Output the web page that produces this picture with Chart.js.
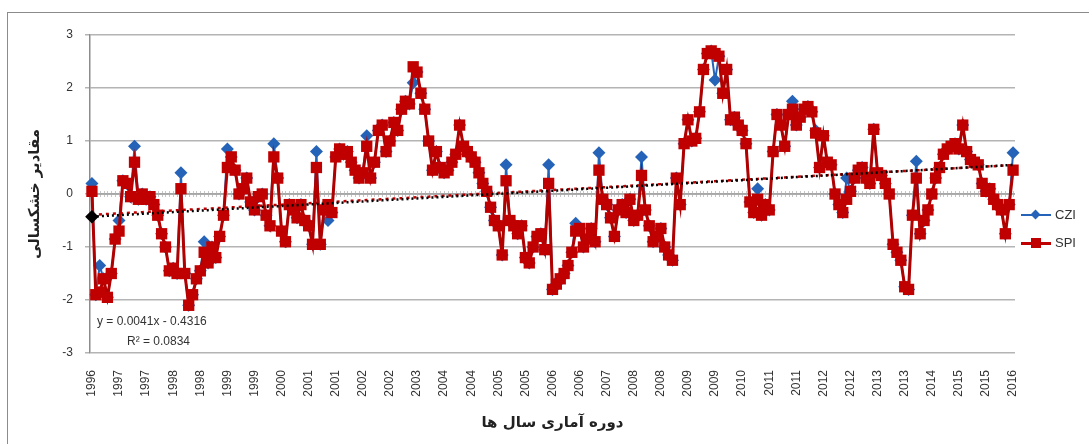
<!DOCTYPE html>
<html>
<head>
<meta charset="utf-8">
<title>CZI / SPI</title>
<script src="https://cdn.jsdelivr.net/npm/chart.js@4.4.1/dist/chart.umd.min.js"></script>
<style>
  html, body { margin: 0; padding: 0; background: #fff; }
  #wrap { position: relative; width: 1089px; height: 444px; overflow: hidden; }
  #frame { position: absolute; left: 7px; top: 12px; width: 1100px; height: 460px; border: 1px solid #8c8c8c; }
  #chart { position: absolute; left: 0; top: 0; }
  .eq { position: absolute; font: 12px "Liberation Sans", Arial, sans-serif; color: #333; white-space: nowrap; }
  .legend { position: absolute; left: 1021px; font: 13px "Liberation Sans", Arial, sans-serif; color: #333; }
  .legend .item { position: relative; height: 28px; }
  .legend .line { position: absolute; left: 0; top: 7px; width: 30px; height: 2px; }
  .legend .mark { position: absolute; }
  .legend .txt { position: absolute; left: 34px; top: 0; line-height: 16px; }
</style>
</head>
<body>
<div id="wrap">
  <div id="frame"></div>
  <canvas id="chart" width="1089" height="444"></canvas>
  <div class="eq" style="left:97px; top:314px;">y = 0.0041x - 0.4316</div>
  <div class="eq" style="left:127px; top:334px;">R² = 0.0834</div>
  <div class="legend" style="top:207px;">
    <div class="item">
      <div class="line" style="background:#2563b8"></div>
      <div class="mark" style="left:11px; top:4px; width:7px; height:7px; background:#2563b8; transform:rotate(45deg);"></div>
      <div class="txt">CZI</div>
    </div>
    <div class="item">
      <div class="line" style="background:#c00000; height:3px;"></div>
      <div class="mark" style="left:10px; top:3px; width:10px; height:10px; background:#c00000;"></div>
      <div class="txt">SPI</div>
    </div>
  </div>
</div>
<script>
// tick labels, one every 7 months (first label on the first point)
const tickStep = 7;
const yearTicks = [
  '1996', '1997', '1997', '1998', '1998', '1999', '1999', '2000', '2001', '2001',
  '2002', '2002', '2003', '2004', '2004', '2005', '2005', '2006', '2006', '2007',
  '2008', '2008', '2009', '2009', '2010', '2011', '2011', '2012', '2012', '2013',
  '2013', '2014', '2015', '2015', '2016'
];

// monthly SPI values
const spiValues = [
  0.05, -1.9, -1.85, -1.6, -1.95, -1.5, -0.85, -0.7, 0.25, 0.2,
  -0.05, 0.6, -0.1, 0.0, -0.1, -0.05, -0.2, -0.4, -0.75, -1.0,
  -1.45, -1.4, -1.5, 0.1, -1.5, -2.1, -1.9, -1.6, -1.45, -1.1,
  -1.3, -1.0, -1.2, -0.8, -0.4, 0.5, 0.7, 0.45, 0.0, 0.1,
  0.3, -0.15, -0.3, -0.05, 0.0, -0.4, -0.6, 0.7, 0.3, -0.7,
  -0.9, -0.2, -0.3, -0.45, -0.2, -0.5, -0.6, -0.95, 0.5, -0.95,
  -0.3, -0.2, -0.35, 0.7, 0.85, 0.75, 0.8, 0.6, 0.45, 0.3,
  0.4, 0.9, 0.3, 0.6, 1.2, 1.3, 0.8, 1.0, 1.35, 1.2,
  1.6, 1.75, 1.7, 2.4, 2.3, 1.9, 1.6, 1.0, 0.45, 0.8,
  0.5, 0.4, 0.45, 0.6, 0.75, 1.3, 0.9, 0.8, 0.7, 0.6,
  0.4, 0.2, 0.05, -0.25, -0.5, -0.6, -1.15, 0.25, -0.5, -0.6,
  -0.75, -0.6, -1.2, -1.3, -1.0, -0.8, -0.75, -1.05, 0.2, -1.8,
  -1.7, -1.6, -1.5, -1.35, -1.1, -0.7, -0.65, -1.0, -0.85, -0.65,
  -0.9, 0.45, -0.1, -0.2, -0.45, -0.8, -0.3, -0.2, -0.35, -0.1,
  -0.5, -0.4, 0.35, -0.3, -0.6, -0.9, -0.8, -0.65, -1.0, -1.15,
  -1.25, 0.3, -0.2, 0.95, 1.4, 1.0, 1.05, 1.55, 2.35, 2.65,
  2.7, 2.65, 2.6, 1.9, 2.35, 1.4, 1.45, 1.3, 1.2, 0.95,
  -0.15, -0.35, -0.1, -0.4, -0.2, -0.3, 0.8, 1.5, 1.3, 0.9,
  1.5, 1.6, 1.3, 1.45, 1.6, 1.65, 1.55, 1.15, 0.5, 1.1,
  0.6, 0.55, 0.0, -0.2, -0.35, -0.1, 0.05, 0.3, 0.45, 0.5,
  0.3, 0.2, 1.22, 0.4, 0.35, 0.2, 0.0, -0.95, -1.1, -1.25,
  -1.75, -1.8, -0.4, 0.3, -0.75, -0.5, -0.3, 0.0, 0.3, 0.5,
  0.75, 0.85, 0.9, 0.95, 0.85, 1.3, 0.8, 0.65, 0.6, 0.55,
  0.2, 0.05, 0.1, -0.1, -0.2, -0.3, -0.75, -0.2, 0.45
];

// monthly CZI values (mostly hidden under SPI, visible at the peaks)
const cziValues = [
  0.2, -1.9, -1.35, -1.6, -1.95, -1.5, -0.85, -0.5, 0.25, 0.2,
  -0.05, 0.9, -0.1, 0.0, -0.1, -0.05, -0.2, -0.4, -0.75, -1.0,
  -1.45, -1.4, -1.5, 0.4, -1.5, -2.1, -1.9, -1.6, -1.45, -0.9,
  -1.3, -1.0, -1.2, -0.8, -0.4, 0.85, 0.7, 0.45, 0.0, 0.1,
  0.3, -0.15, -0.3, -0.05, 0.0, -0.4, -0.6, 0.95, 0.3, -0.7,
  -0.9, -0.2, -0.3, -0.45, -0.2, -0.5, -0.6, -0.95, 0.8, -0.95,
  -0.3, -0.5, -0.35, 0.7, 0.85, 0.75, 0.8, 0.6, 0.45, 0.3,
  0.4, 1.1, 0.3, 0.6, 1.2, 1.3, 0.8, 1.0, 1.35, 1.2,
  1.6, 1.75, 1.7, 2.1, 2.3, 1.9, 1.6, 1.0, 0.45, 0.8,
  0.5, 0.4, 0.45, 0.6, 0.75, 1.3, 0.9, 0.8, 0.7, 0.6,
  0.4, 0.2, 0.05, -0.25, -0.5, -0.6, -1.15, 0.55, -0.5, -0.6,
  -0.75, -0.6, -1.2, -1.3, -1.0, -0.8, -0.75, -1.05, 0.55, -1.8,
  -1.7, -1.6, -1.5, -1.35, -1.1, -0.55, -0.65, -1.0, -0.85, -0.65,
  -0.9, 0.78, -0.1, -0.2, -0.45, -0.8, -0.3, -0.2, -0.35, -0.1,
  -0.5, -0.4, 0.7, -0.3, -0.6, -0.9, -0.8, -0.65, -1.0, -1.15,
  -1.25, 0.3, -0.2, 0.95, 1.4, 1.0, 1.05, 1.55, 2.35, 2.65,
  2.7, 2.15, 2.6, 1.9, 2.35, 1.4, 1.45, 1.3, 1.2, 0.95,
  -0.15, -0.35, 0.1, -0.4, -0.2, -0.3, 0.8, 1.5, 1.3, 0.9,
  1.5, 1.75, 1.3, 1.45, 1.6, 1.65, 1.55, 1.2, 0.5, 1.1,
  0.6, 0.55, 0.0, -0.2, -0.35, 0.3, 0.05, 0.3, 0.45, 0.5,
  0.3, 0.2, 1.22, 0.4, 0.35, 0.2, 0.0, -0.95, -1.1, -1.25,
  -1.75, -1.8, -0.4, 0.62, -0.75, -0.5, -0.3, 0.0, 0.3, 0.5,
  0.75, 0.85, 0.9, 0.95, 0.85, 1.3, 0.8, 0.65, 0.6, 0.55,
  0.2, 0.05, 0.1, -0.1, -0.2, -0.3, -0.75, -0.2, 0.78
];

// trend equation printed on the chart
const trendSlope = 0.0041;
const trendIntercept = -0.4316;

const categories = spiValues.map((v, i) => i);

function linearFit(values) {
  const n = values.length;
  let sx = 0, sy = 0, sxx = 0, sxy = 0;
  values.forEach((v, i) => {
    const x = i + 1;
    sx += x; sy += v; sxx += x * x; sxy += x * v;
  });
  const slope = (n * sxy - sx * sy) / (n * sxx - sx * sx);
  return { slope, intercept: (sy - slope * sx) / n };
}

const spiFit = linearFit(spiValues);
const cziTrend = categories.map(i => trendSlope * (i + 1) + trendIntercept);
const spiTrend = categories.map(i => spiFit.slope * (i + 1) + spiFit.intercept);

// horizontal axis crossing at 0, with a tick mark on every category
const zeroAxis = {
  id: 'zeroAxis',
  beforeDatasetsDraw(chart) {
    const { ctx, chartArea, scales: { x, y } } = chart;
    const y0 = y.getPixelForValue(0);
    ctx.save();
    ctx.strokeStyle = '#c6c6c6';
    ctx.lineWidth = 1;
    ctx.beginPath();
    categories.forEach(i => {
      const px = Math.round(x.getPixelForValue(i)) + 0.5;
      ctx.moveTo(px, y0 - 3);
      ctx.lineTo(px, y0 + 3);
    });
    ctx.stroke();
    ctx.strokeStyle = '#a0a0a0';
    ctx.lineWidth = 1.5;
    ctx.beginPath();
    ctx.moveTo(chartArea.left, y0);
    ctx.lineTo(chartArea.right, y0);
    ctx.stroke();
    ctx.restore();
  }
};

const tickFont = { family: '"Liberation Sans", Arial, sans-serif', size: 12 };
const titleFont = { family: '"DejaVu Sans", sans-serif', size: 15, weight: 'bold' };

new Chart(document.getElementById('chart'), {
  type: 'line',
  data: {
    labels: categories,
    datasets: [
      {
        label: 'CZI trend',
        data: cziTrend,
        borderColor: '#000',
        backgroundColor: '#000',
        borderWidth: 2.5,
        borderDash: [2, 3],
        pointRadius: ctx => (ctx.dataIndex === 0 ? 5 : 0),
        pointStyle: 'rectRot',
        order: 0
      },
      {
        label: 'SPI trend',
        data: spiTrend,
        borderColor: '#c00000',
        borderWidth: 2.5,
        borderDash: [3, 4],
        pointRadius: 0,
        order: 0
      },
      {
        label: 'SPI',
        data: spiValues,
        borderColor: '#b00000',
        backgroundColor: '#c00000',
        borderWidth: 3,
        pointStyle: 'rect',
        pointRadius: 8,
        pointBorderWidth: 0,
        tension: 0,
        order: 1
      },
      {
        label: 'CZI',
        data: cziValues,
        borderColor: '#2563b8',
        backgroundColor: '#2563b8',
        borderWidth: 2,
        pointStyle: 'rectRot',
        pointRadius: 6.5,
        pointBorderWidth: 0,
        tension: 0,
        order: 2
      }
    ]
  },
  options: {
    responsive: false,
    animation: false,
    layout: { padding: { top: 35, right: 74, bottom: 8, left: 0 } },
    plugins: {
      legend: { display: false },
      tooltip: { enabled: false }
    },
    scales: {
      x: {
        offset: true,
        grid: { display: false },
        border: { display: false },
        ticks: {
          autoSkip: false,
          minRotation: 90,
          maxRotation: 90,
          padding: 9,
          color: '#333',
          font: tickFont,
          callback: (v, i) => (i % tickStep === 0 ? yearTicks[i / tickStep] : '')
        },
        title: {
          display: true,
          text: 'دوره آماری سال ها',
          color: '#222',
          font: titleFont,
          padding: { top: 4, bottom: 4 }
        },
        afterFit: scale => { scale.height = 83; }
      },
      y: {
        min: -3,
        max: 3,
        ticks: { stepSize: 1, padding: 12, color: '#333', font: tickFont },
        grid: { color: '#b4b4b4', lineWidth: 1.5, tickLength: 5 },
        border: { color: '#8c8c8c', width: 1.5 },
        title: {
          display: true,
          text: 'مقادیر خشکسالی',
          color: '#222',
          font: titleFont,
          padding: { top: 26, bottom: 0 }
        },
        afterFit: scale => { scale.width = 90; }
      }
    }
  },
  plugins: [zeroAxis]
});
</script>
</body>
</html>
